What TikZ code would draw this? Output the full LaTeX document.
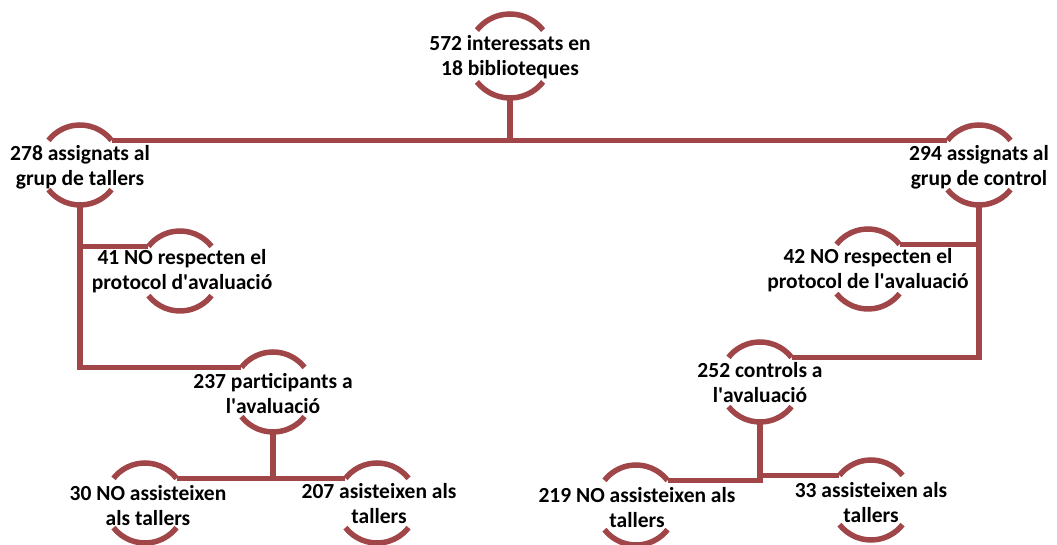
\documentclass[tikz,border=0pt]{standalone}
\usepackage{fontspec}
\setmainfont{Carlito}
\definecolor{dred}{RGB}{160,70,72}
\newcommand{\ap}{\textquotesingle}
\newcommand{\ringarcs}[2]{\draw[con] (#1.38) arc (38:142:#2) (#1.218) arc (218:322:#2);}
\begin{document}
\begin{tikzpicture}[x=1pt,y=1pt,
  ring/.style={circle, minimum size=80pt, inner sep=0pt, outer sep=0pt},
  lbl/.style={font=\bfseries\fontsize{21.5}{25}\selectfont, align=center, inner sep=0pt},
  con/.style={draw=dred, line width=5.5pt}]
\useasboundingbox (0,0) rectangle (1057,545);
% rings
\node[ring, minimum size=84pt] (Ac) at (510,489) {};
\node[ring] (Bc) at (80,380) {};
\node[ring] (Cc) at (180,274) {};
\node[ring] (Dc) at (273,153) {};
\node[ring] (Ec) at (145,42) {};
\node[ring] (Fc) at (377,42) {};
\node[ring] (Gc) at (979,380) {};
\node[ring] (Hc) at (868,276) {};
\node[ring] (Ic) at (760,163) {};
\node[ring] (Jc) at (636,40) {};
\node[ring] (Kc) at (871,45) {};
\ringarcs{Ac}{42pt}
\foreach \n in {Bc,Cc,Dc,Ec,Fc,Gc,Hc,Ic,Jc,Kc}{\ringarcs{\n}{40pt}}
% connectors
\draw[con] (Bc.38) -- (Gc.142);
\draw[con] (Ac.south) -- (Ac.south |- Bc.38);
\draw[con] (Bc.south) |- (Dc.142);
\draw[con] (Bc.south |- Cc.142) -- (Cc.142);
\draw[con] (Dc.south) -- (Dc.south |- Ec.38);
\draw[con] (Ec.38) -- (Fc.142);
\draw[con] (Gc.south) |- (Ic.38);
\draw[con] (Gc.south |- Hc.38) -- (Hc.38);
\draw[con] (Ic.south) |- (Jc.38);
\draw[con] (Ic.south |- Kc.142) -- (Kc.142);
% labels
\node[lbl] (A) at (510,488) {572 interessats en\\18 biblioteques};
\node[lbl] (B) at (80,378) {278 assignats al\\grup de tallers};
\node[lbl] (C) at (182,274) {41 NO respecten el\\protocol d\ap avaluació};
\node[lbl] (D) at (273,151) {237 participants a\\l\ap avaluació};
\node[lbl] (E) at (148,39) {30 NO assisteixen\\als tallers};
\node[lbl] (F) at (379,41) {207 asisteixen als\\tallers};
\node[lbl] (G) at (979,378) {294 assignats al\\grup de control};
\node[lbl] (H) at (868,275) {42 NO respecten el\\protocol de l\ap avaluació};
\node[lbl] (I) at (760,162) {252 controls a\\l\ap avaluació};
\node[lbl] (J) at (637,37) {219 NO assisteixen als\\tallers};
\node[lbl] (K) at (871,42) {33 assisteixen als\\tallers};
\end{tikzpicture}
\end{document}
